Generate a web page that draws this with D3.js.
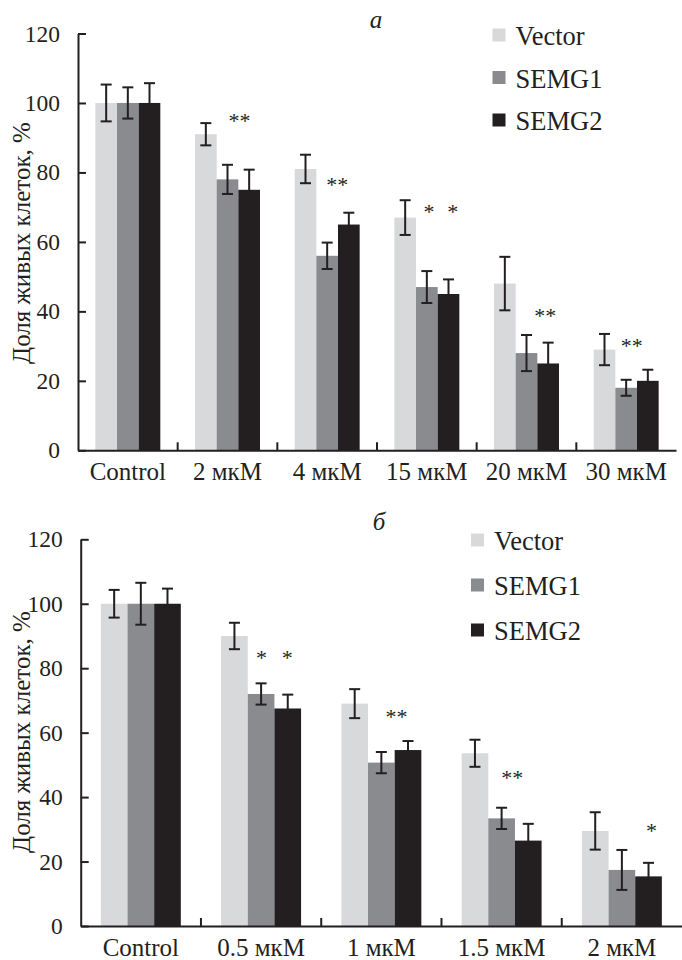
<!DOCTYPE html>
<html>
<head>
<meta charset="utf-8">
<script src="https://cdn.jsdelivr.net/npm/d3@7"></script>
<style>
  body { margin: 0; background: #fff; }
  svg { display: block; }
</style>
</head>
<body>
<svg id="fig" width="682" height="960"></svg>
<script>
// series
const seriesNames = ["Vector", "SEMG1", "SEMG2"];
const seriesColors = ["#d8d9db", "#8a8b8f", "#231f20"];

// panel a
const catsA = ["Control", "2 мкМ", "4 мкМ", "15 мкМ", "20 мкМ", "30 мкМ"];
const vectorA = [100, 91, 81, 67, 48, 29];
const semg1A = [100, 78, 56, 47, 28, 18];
const semg2A = [100, 75, 65, 45, 25, 20];
const vectorErrA = [5.3, 3.2, 4.1, 5.0, 7.7, 4.5];
const semg1ErrA = [4.5, 4.2, 3.8, 4.6, 5.2, 2.3];
const semg2ErrA = [5.7, 5.8, 3.4, 4.2, 6.0, 3.2];
// significance marks: category, text, value level, bar slot
const starCatA = ["2 мкМ", "4 мкМ", "15 мкМ", "15 мкМ", "20 мкМ", "30 мкМ"];
const starTextA = ["**", "**", "*", "*", "**", "**"];
const starValA = [95.7, 77.3, 69.5, 69.5, 39.5, 30.8];
const starSlotA = [1.55, 1.47, 1.1, 2.2, 1.86, 1.26];

// panel б
const catsB = ["Control", "0.5 мкМ", "1 мкМ", "1.5 мкМ", "2 мкМ"];
const vectorB = [100, 90, 69, 53.6, 29.5];
const semg1B = [100, 72, 50.7, 33.4, 17.4];
const semg2B = [100, 67.5, 54.6, 26.5, 15.4];
const vectorErrB = [4.3, 4.1, 4.5, 4.2, 5.8];
const semg1ErrB = [6.5, 3.3, 3.3, 3.3, 6.2];
const semg2ErrB = [4.7, 4.3, 2.8, 5.2, 4.2];
const starCatB = ["0.5 мкМ", "0.5 мкМ", "1 мкМ", "1.5 мкМ", "2 мкМ"];
const starTextB = ["*", "*", "**", "**", "*"];
const starValB = [84.1, 84.1, 65.8, 46.9, 30.3];
const starSlotB = [1.02, 1.98, 1.57, 1.4, 2.11];

const yTicks = [0, 20, 40, 60, 80, 100, 120];
const yLabel = "Доля живых клеток, %";

const FONT = "'Liberation Serif', 'DejaVu Serif', 'Times New Roman', serif";
const ink = "#231f20";
const svg = d3.select("#fig").attr("font-family", FONT);

function drawPanel(p) {
  const g = svg.append("g");
  const x = d3.scaleBand().domain(p.cats).range([p.left, p.right]);
  const y = d3.scaleLinear().domain([0, 120]).range([p.bottom, p.top]);
  const bw = x.bandwidth();
  const gw = bw * p.groupRatio;
  const off = (bw - gw) / 2;
  const xs = d3.scaleBand().domain(seriesNames).range([0, gw]);
  const barW = xs.bandwidth();

  const rows = [];
  p.cats.forEach((c, i) => {
    seriesNames.forEach((s, j) => {
      rows.push({cat: c, s: s, j: j, v: p.vals[j][i], e: p.errs[j][i]});
    });
  });

  // bars
  g.selectAll("rect.bar").data(rows).enter().append("rect")
    .attr("class", "bar")
    .attr("x", d => x(d.cat) + off + xs(d.s))
    .attr("y", d => y(d.v))
    .attr("width", barW)
    .attr("height", d => y(0) - y(d.v))
    .attr("fill", d => seriesColors[d.j]);

  // error bars
  const cap = 5.5;
  const eb = g.selectAll("g.err").data(rows).enter().append("g").attr("class", "err")
    .attr("stroke", ink).attr("stroke-width", 2);
  const cx = d => x(d.cat) + off + xs(d.s) + barW / 2;
  eb.append("line").attr("x1", cx).attr("x2", cx)
    .attr("y1", d => y(d.v + d.e)).attr("y2", d => y(d.v - d.e));
  eb.append("line").attr("x1", d => cx(d) - cap).attr("x2", d => cx(d) + cap)
    .attr("y1", d => y(d.v + d.e)).attr("y2", d => y(d.v + d.e));
  eb.append("line").attr("x1", d => cx(d) - cap).attr("x2", d => cx(d) + cap)
    .attr("y1", d => y(d.v - d.e)).attr("y2", d => y(d.v - d.e));

  // stars
  const stars = p.starCat.map((c, i) => ({cat: c, t: p.starText[i], v: p.starVal[i], s: p.starSlot[i]}));
  g.selectAll("text.star").data(stars).enter().append("text")
    .attr("class", "star")
    .attr("x", d => x(d.cat) + off + (d.s + 0.5) * barW)
    .attr("y", d => y(d.v) + 10)
    .attr("text-anchor", "middle")
    .attr("font-family", FONT)
    .attr("font-size", 22)
    .attr("fill", ink)
    .text(d => d.t);

  // y axis
  const ya = g.append("g").attr("transform", `translate(${p.left},0)`)
    .call(d3.axisLeft(y).tickValues(yTicks).tickSizeInner(-8).tickSizeOuter(0).tickPadding(18));
  ya.attr("font-family", FONT);
  ya.select(".domain").attr("stroke", ink).attr("stroke-width", 2);
  ya.selectAll(".tick line").attr("stroke", ink).attr("stroke-width", 2);
  ya.selectAll(".tick text").attr("font-size", 23.5).attr("font-family", FONT).attr("fill", ink);

  // x axis
  const xa = g.append("g").attr("transform", `translate(0,${p.bottom})`)
    .call(d3.axisBottom(x).tickSize(0).tickPadding(12));
  xa.attr("font-family", FONT);
  xa.select(".domain").attr("stroke", ink).attr("stroke-width", 2);
  xa.selectAll(".tick text").attr("font-size", 25).attr("font-family", FONT).attr("fill", ink)
    .attr("dy", "0.71em");
  g.selectAll("line.sep").data(p.cats.slice(1)).enter().append("line")
    .attr("class", "sep")
    .attr("x1", d => x(d)).attr("x2", d => x(d))
    .attr("y1", p.bottom).attr("y2", p.bottom - 8)
    .attr("stroke", ink).attr("stroke-width", 2);

  // y label
  g.append("text")
    .attr("transform", `translate(${p.ylabX},${p.ylabY}) rotate(-90)`)
    .attr("text-anchor", "middle")
    .attr("font-family", FONT)
    .attr("font-size", 25)
    .attr("fill", ink)
    .text(yLabel);

  // panel letter
  g.append("text")
    .attr("x", p.letterX).attr("y", p.letterY)
    .attr("text-anchor", "middle")
    .attr("font-family", FONT)
    .attr("font-size", 25)
    .attr("font-style", "italic")
    .attr("fill", ink)
    .text(p.letter);

  // legend
  const lg = g.selectAll("g.leg").data(seriesNames).enter().append("g").attr("class", "leg")
    .attr("transform", (d, i) => `translate(${p.legX},${p.legY + i * p.legStep})`);
  lg.append("rect").attr("x", 0).attr("y", -16.5).attr("width", 13).attr("height", 13)
    .attr("fill", (d, i) => seriesColors[i]);
  lg.append("text").attr("x", 23).attr("y", 0)
    .attr("font-family", FONT).attr("font-size", 26.5).attr("fill", ink)
    .text(d => d);
}

drawPanel({
  cats: catsA,
  vals: [vectorA, semg1A, semg2A],
  errs: [vectorErrA, semg1ErrA, semg2ErrA],
  starCat: starCatA, starText: starTextA, starVal: starValA, starSlot: starSlotA,
  left: 78, right: 676, top: 33.5, bottom: 450.3, groupRatio: 0.652,
  ylabX: 30, ylabY: 243,
  letter: "а", letterX: 376, letterY: 28,
  legX: 492.5, legY: 45, legStep: 42.5
});

drawPanel({
  cats: catsB,
  vals: [vectorB, semg1B, semg2B],
  errs: [vectorErrB, semg1ErrB, semg2ErrB],
  starCat: starCatB, starText: starTextB, starVal: starValB, starSlot: starSlotB,
  left: 80.7, right: 682, top: 539.3, bottom: 926, groupRatio: 0.665,
  ylabX: 30, ylabY: 732,
  letter: "б", letterX: 379, letterY: 530,
  legX: 471, legY: 550, legStep: 45
});
</script>
</body>
</html>
